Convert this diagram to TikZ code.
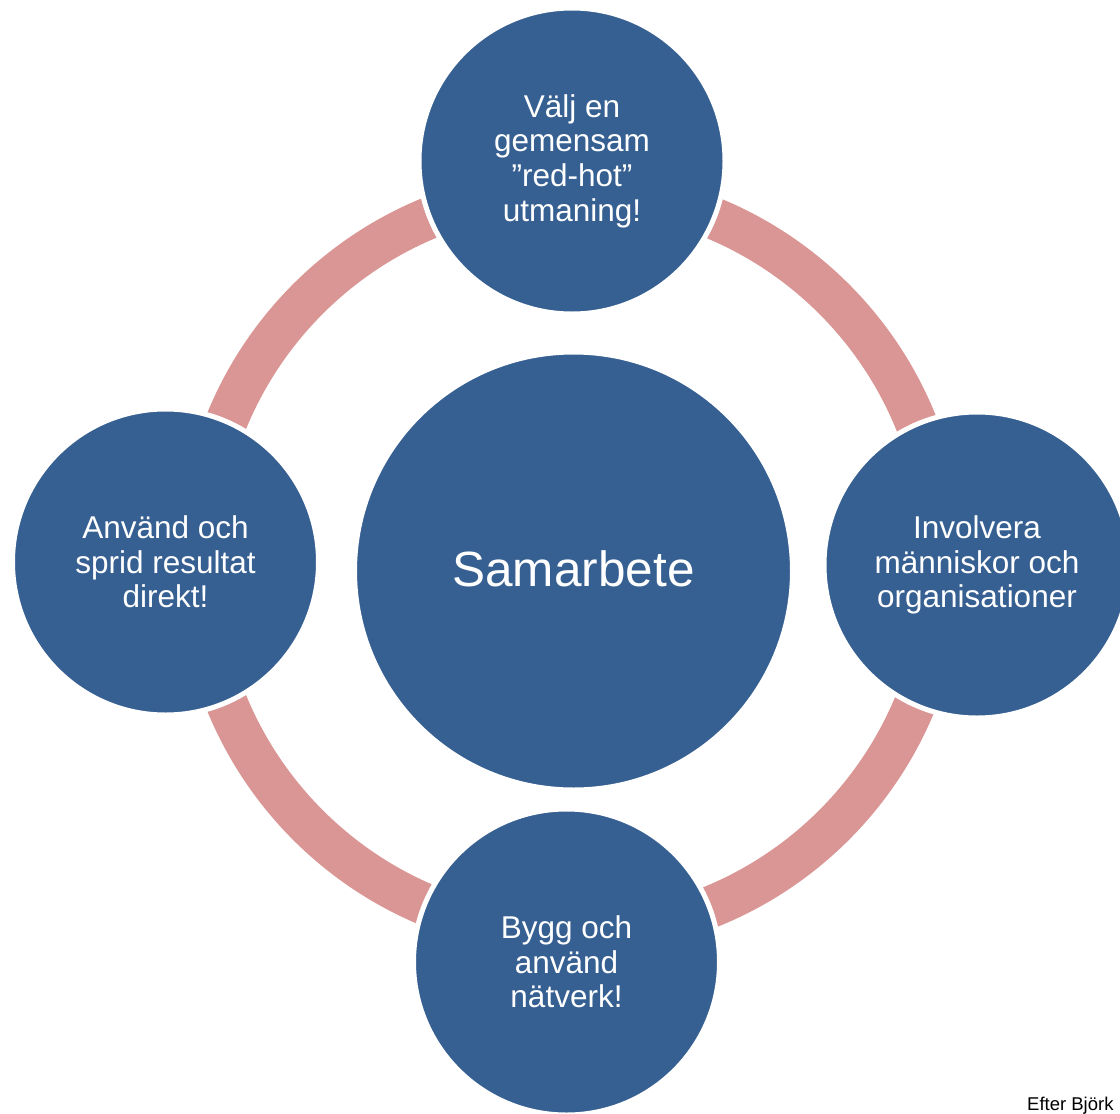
\documentclass[tikz,border=0pt]{standalone}
\usepackage{fontspec}
\setmainfont{Liberation Sans}
\definecolor{cblue}{HTML}{376092}
\definecolor{cpink}{HTML}{D99694}
\tikzset{
  x=1pt, y=-1pt,
  ringline/.style={draw=cpink, line width=42pt},
  smallc/.style={circle, fill=cblue, draw=white, line width=5pt, inner sep=0pt,
    minimum size=306pt, text=white, align=center,
    font=\fontsize{31.5}{34.7}\selectfont},
  bigc/.style={circle, fill=cblue, draw=white, line width=5pt, inner sep=0pt,
    minimum size=438pt, text=white, align=center,
    font=\fontsize{49.5}{55}\selectfont},
  srcnote/.style={anchor=base west, inner sep=0pt, text=black,
    font=\fontsize{18.5}{21}\selectfont}
}
\begin{document}
\begin{tikzpicture}
\useasboundingbox (0,0) rectangle (1120,1114);
\coordinate (ctr) at (571,562);
\draw[ringline] (ctr) circle [radius=372pt];
\node[bigc] (sam) at (573.5,571) {\raisebox{4pt}{Samarbete}};
\node[smallc] (top) at (572,161) {Välj en\\gemensam\\”red-hot”\\utmaning!};
\node[smallc] (right) at (977,565) {Involvera\\människor och\\organisationer};
\node[smallc] (bottom) at (566.5,962) {Bygg och\\använd\\nätverk!};
\node[smallc] (left) at (165.5,562) {Använd och\\sprid resultat\\direkt!};
\node[srcnote] (src) at (1027,1110) {Efter Björk};
\end{tikzpicture}
\end{document}
